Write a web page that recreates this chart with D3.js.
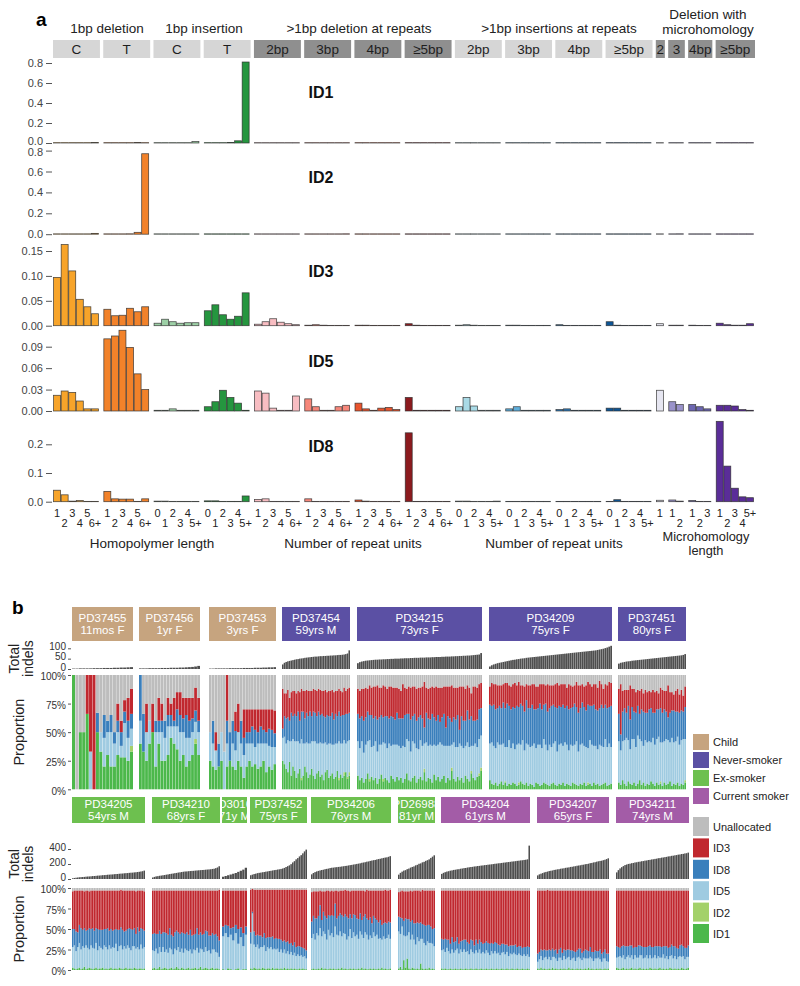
<!DOCTYPE html>
<html><head><meta charset="utf-8">
<script src="https://cdn.jsdelivr.net/npm/d3@7"></script>
<style>body{margin:0;background:#fff;} svg{font-family:Arial,"Liberation Sans",Helvetica,sans-serif;}</style>
</head><body><svg id="chart" width="800" height="986"></svg>
<script>
// ================= PART A DATA =================
const aGroupNames = ['C','T','C','T','2bp','3bp','4bp','≥5bp','2bp','3bp','4bp','≥5bp','2','3','4bp','≥5bp'];
const aGroupSizes = [6,6,6,6,6,6,6,6,6,6,6,6,1,2,3,5];
const delLabels = ['1','2','3','4','5','6+'];
const insLabels = ['0','1','2','3','4','5+'];
const mhLabels = ['1','2','3','4','5+'];
const ID1_vals = [
 .002,.002,.002,.002,.002,.004, .001,.001,.002,.002,.004,.002,
 .001,.001,.001,.002,.002,.014, .001,.001,.003,.006,.022,.81,
 .001,.001,0,0,0,0, .002,.001,.001,0,0,0, .002,.001,0,0,0,0, .001,0,0,0,0,0,
 .001,.001,.001,.001,.001,.003, .001,.001,.001,.001,0,.001, .001,0,0,0,0,.001, .001,.001,0,0,0,0,
 .002, .002,.001, .001,.001,.001, .001,.001,.001,.001,.001];
const ID2_vals = [
 .002,.001,.001,.001,.002,.008, .001,.001,.003,.004,.018,.77,
 .001,.001,.001,.001,.001,.003, .001,.001,.001,.001,.002,.002,
 .002,.001,.001,0,0,0, .001,.002,0,0,0,.004, .001,0,0,0,0,0, .001,.002,0,0,0,0,
 .001,.001,0,0,0,0, .001,.001,0,0,0,0, .001,0,0,0,0,0, .002,.001,0,0,0,0,
 .001, .001,.004, .001,.001,.001, .001,.001,.001,.001,.003];
const ID3_vals = [
 .097,.163,.110,.053,.038,.024, .033,.020,.021,.035,.028,.038,
 .005,.013,.008,.005,.006,.006, .030,.042,.022,.013,.019,.066,
 .003,.008,.014,.007,.004,.002, .001,.002,.001,0,0,0, .001,.001,0,0,0,0, .004,.001,0,0,0,0,
 .001,.002,.001,0,0,0, .001,.001,0,0,0,0, .002,0,0,0,0,0, .008,.001,0,0,0,0,
 .004, .001,.001, .001,0,0, .005,.002,.001,.001,.004];
const ID5_vals = [
 .022,.028,.026,.014,.003,.003, .101,.105,.113,.089,.052,.030,
 .001,.001,.003,.001,.001,.001, .006,.013,.029,.019,.011,.001,
 .028,.025,.004,.001,.001,.021, .017,.006,.001,.001,.006,.008, .011,.003,.001,.004,.005,.002, .019,.001,.001,.001,.001,.001,
 .006,.019,.007,.001,.001,.001, .003,.006,.001,.001,.001,.001, .002,.003,.001,.001,.001,.001, .004,.004,.001,.001,.001,.001,
 .029, .013,.009, .009,.006,.003, .008,.008,.007,.002,.001];
const ID8_vals = [
 .040,.024,.002,.004,.001,.001, .036,.010,.009,.009,.001,.010,
 .002,.002,.001,.001,.001,.001, .003,.003,.001,.001,.001,.020,
 .008,.010,.001,.001,.001,.001, .010,.001,.001,.001,.001,.001, .006,.002,.001,.001,.001,.001, .240,.001,.001,.001,.001,.001,
 .002,.002,.001,.001,.001,.002, .001,.001,.001,.001,.001,.001, .001,.001,.001,.001,.001,.001, .001,.007,.001,.001,.001,.001,
 .005, .006,.002, .004,.001,.001, .280,.124,.047,.017,.014];

// ================= PART B DATA =================
const sigKeys = ['ID1','ID2','ID5','ID8','ID3','Unallocated'];
const PD37455_tot=[2,2,3,3,3,3,4,4,4,5,5,5,6,6,7,7,8,9];
const PD37455_id1=[100,0,50,50,66,0,0,50,33,20,30,20,20,30,28,28,25,33];
const PD37455_id2=[0,0,0,0,0,0,0,0,0,0,0,0,0,0,0,0,0,5];
const PD37455_id5=[0,0,0,0,0,33,0,0,17,25,20,30,20,20,10,30,20,15];
const PD37455_id8=[0,0,0,0,0,0,0,17,0,20,10,15,10,10,12,10,15,13];
const PD37455_id3=[0,0,0,0,34,67,100,0,0,0,0,0,0,15,10,10,20,22];
const PD37456_tot=[3,3,3,4,4,4,4,5,5,5,6,6,6,7,7,8,9,10,12,15];
const PD37456_id1=[40,33,25,40,50,20,40,25,25,30,45,40,35,25,30,20,25,30,40,30];
const PD37456_id2=[0,0,0,0,0,0,0,0,0,0,0,0,0,0,0,0,0,0,4,0];
const PD37456_id5=[20,0,25,20,0,30,10,25,20,25,10,15,20,25,20,25,20,20,15,20];
const PD37456_id8=[40,33,0,0,0,10,10,10,15,10,10,5,15,15,12,20,15,12,10,10];
const PD37456_id3=[0,0,25,0,25,0,20,15,0,15,10,20,15,20,18,15,20,18,20,20];
const PD37453_tot=[2,2,3,3,3,3,3,4,4,4,4,4,5,5,5,5,6,6,6,7,7,8,8,9];
const PD37453_id1=[25,20,17,20,25,0,20,25,20,17,25,20,10,20,25,20,22,18,20,25,15,20,17,22];
const PD37453_id5=[25,20,17,0,25,33,20,0,20,17,25,20,20,20,15,20,15,22,20,15,25,18,20,15];
const PD37453_id8=[0,20,0,20,0,0,20,25,20,17,0,20,15,10,10,15,15,10,15,12,10,15,15,12];
const PD37453_id3=[0,0,16,0,0,0,40,0,0,17,25,0,25,20,20,15,18,20,15,18,20,17,18,20];
const PD37454_tot=[22,30,34,37,39,41,43,45,47,48,50,51,52,54,55,56,57,58,59,60,60,61,62,62,63,63,64,64,65,65,66,66,67,68,68,69,70,72,75,90];
const PD37454_id1=[25,22,18,15,24,12,20,16,10,14,18,8,12,20,15,10,13,18,12,9,14,16,11,13,8,15,17,10,12,14,9,11,16,8,13,10,12,15,9,12];
const PD37454_id2=[0,0,0,0,0,0,0,0,0,0,0,2,0,0,0,0,0,0,0,0,0,0,0,0,0,0,0,0,0,0,0,0,0,2,0,0,3,0,2,3];
const PD37454_id5=[20,24,22,28,18,30,24,26,32,28,22,34,28,20,26,30,27,24,30,33,26,24,30,27,32,26,22,30,28,25,30,29,24,32,27,30,28,25,31,28];
const PD37454_id8=[8,18,22,20,18,25,20,24,22,26,20,24,28,22,26,24,28,22,26,25,24,28,24,26,24,22,26,24,24,28,22,26,24,26,24,25,22,26,24,24];
const PD37454_id3=[35,20,22,24,20,18,22,20,20,18,25,20,18,24,20,22,18,22,20,20,22,20,22,20,22,24,20,22,22,20,24,20,22,20,22,20,24,20,22,22];
const PD34215_tot=[28,33,36,38,40,41,42,43,44,45,45,46,46,47,47,48,48,49,49,50,50,50,51,51,52,52,52,53,53,54,54,54,55,55,55,56,56,56,57,57,58,58,58,59,59,60,60,60,61,61,62,62,63,63,64,64,65,65,66,67,68,69,70,77];
const PD34215_id1=[12,8,10,6,9,14,7,11,8,10,5,9,13,7,10,8,6,12,9,7,11,8,10,6,9,14,8,7,10,12,6,9,11,8,15,7,10,9,6,13,8,11,7,9,12,6,10,8,16,9,7,11,8,10,6,12,9,7,14,10,8,11,12,16];
const PD34215_id2=[0,0,0,0,0,0,2,0,0,0,0,0,0,2,0,0,0,0,0,0,0,0,0,0,0,0,0,0,0,0,0,0,0,0,3,0,0,0,0,0,0,0,0,0,0,0,0,0,3,0,0,0,0,0,0,0,0,0,2,0,0,0,2,3];
const PD34215_id5=[30,28,32,26,30,28,34,26,30,32,28,30,26,32,30,28,34,26,30,32,28,30,26,32,28,30,34,26,32,28,30,26,32,30,22,34,28,30,32,26,30,28,34,30,26,32,28,30,20,32,30,26,32,28,30,26,32,30,22,28,32,26,30,28];
const PD34215_id8=[24,26,22,28,24,26,22,28,24,22,28,24,26,22,24,28,22,26,24,22,28,24,26,24,28,22,24,28,22,26,24,28,22,24,14,26,24,22,28,24,22,26,18,24,28,16,26,24,20,22,24,28,12,26,24,22,28,24,26,22,20,24,26,24];
const PD34215_id3=[22,24,24,28,26,20,26,24,28,26,30,26,24,28,26,24,28,26,26,28,22,26,24,30,24,22,24,28,26,24,28,26,24,28,40,22,26,28,24,26,30,24,30,26,24,36,26,28,32,26,28,24,38,26,30,28,22,28,20,30,30,28,22,22];
const PD34209_tot=[12,18,22,25,28,30,32,34,36,38,40,42,44,45,47,48,50,51,52,54,55,56,57,58,59,60,61,62,63,64,65,66,67,68,69,70,71,72,73,74,75,76,77,78,79,80,81,82,83,84,85,86,87,88,89,90,92,94,96,98,101,104,108,112];
const PD34209_id1=[8,5,4,6,3,5,7,4,6,3,5,4,6,5,3,4,7,5,4,6,3,5,4,2,6,5,3,4,6,5,4,3,5,6,4,3,5,4,6,3,5,4,3,6,5,4,3,5,4,6,3,4,5,3,6,4,5,3,4,5,6,3,4,5];
const PD34209_id2=[0,0,0,0,0,0,0,0,1,0,0,0,0,0,0,2,0,0,0,0,0,0,0,0,0,0,0,0,0,0,0,0,0,0,0,0,0,0,0,0,0,0,0,0,0,0,0,0,0,0,0,2,0,0,0,0,0,0,0,0,0,0,0,0];
const PD34209_id5=[32,36,34,30,38,34,32,36,30,34,38,32,34,30,36,34,32,38,30,34,36,32,34,38,30,34,36,32,38,34,30,36,32,34,38,30,34,36,32,38,34,30,36,32,34,38,30,34,36,32,34,30,38,36,32,34,30,36,34,32,38,34,36,32];
const PD34209_id8=[34,32,36,34,30,34,32,36,34,38,30,34,32,36,34,32,36,30,34,38,32,34,36,30,34,32,36,34,30,36,34,32,36,34,30,38,34,32,36,30,34,36,32,34,36,30,34,32,36,34,32,38,30,34,36,32,34,32,36,34,30,34,32,36];
const PD34209_id3=[16,20,18,22,20,18,20,16,22,18,18,20,20,22,18,22,16,18,22,14,20,20,18,22,20,19,17,22,18,16,24,20,18,17,20,22,18,20,18,21,16,22,20,18,16,22,24,20,16,18,22,20,19,17,18,22,20,24,18,17,18,20,22,20];
const PD37451_tot=[26,30,32,34,36,37,38,40,41,42,43,44,45,46,47,48,49,50,51,52,53,54,55,56,57,58,59,60,61,62,63,64,65,66,68,72];
const PD37451_id1=[6,4,8,5,3,7,5,4,6,3,5,8,4,6,3,5,4,7,5,3,6,4,5,3,6,4,5,7,3,5,4,6,3,5,4,6];
const PD37451_id2=[0,0,0,0,0,0,0,0,0,0,0,0,0,0,0,0,0,0,0,0,0,0,2,0,0,0,0,0,0,0,0,0,0,0,0,2];
const PD37451_id5=[36,30,34,38,42,36,30,40,38,34,42,36,38,32,40,36,38,34,40,36,38,42,34,38,36,40,38,34,42,36,38,40,36,38,40,36];
const PD37451_id8=[24,14,26,28,22,30,26,28,24,30,26,22,28,30,24,26,28,30,22,28,26,24,30,26,28,24,20,26,24,28,26,22,28,26,24,28];
const PD37451_id3=[22,44,18,16,20,14,30,16,20,18,14,20,18,16,20,18,16,14,20,18,16,14,18,20,16,18,28,18,16,14,18,20,16,18,14,18];
const PD34205_tot=[10,14,17,20,23,25,26,28,31,33,34,36,39,40,42,45,46,48,51,52,54,57,58,60,61,64,66,67,70,72,73,76,78,79,82,84,85,88,90,93,96,100,104,112];
const PD34205_id1=[3,2,1,2,3,1,2,4,1,2,3,2,1,2,3,1,2,2,3,1,2,1,2,3,1,2,2,1,3,2,1,2,3,1,2,2,1,3,2,1,2,2,1,2];
const PD34205_id5=[25,28,22,26,30,24,27,23,29,25,22,28,26,24,30,23,27,25,22,29,26,24,28,23,27,25,30,22,26,28,24,27,23,29,25,22,28,26,24,27,23,29,25,26];
const PD34205_id8=[22,20,24,18,22,26,20,24,18,22,26,20,24,22,18,26,20,22,24,20,22,26,18,24,20,22,18,26,20,22,24,18,22,20,24,26,20,22,18,24,22,20,24,20];
const PD34205_id3=[46,47,50,51,42,46,48,45,49,48,45,47,46,49,46,47,48,48,48,47,47,46,49,47,49,48,47,48,48,46,48,50,49,47,46,47,48,46,52,45,50,46,47,48];
const PD34210_tot=[20,28,35,38,43,46,50,53,58,61,66,70,73,78,81,86,89,93,97,100,101,104,106,108,109,112,114,116,118,120,121,124,126,128,130,134,137,145,154,170];
const PD34210_id1=[2,3,1,2,4,1,2,3,2,1,2,3,1,2,4,2,1,3,2,1,2,3,1,2,2,3,1,2,4,1,2,3,2,1,2,3,1,2,2,1];
const PD34210_id5=[22,20,25,18,24,21,26,19,23,20,25,22,18,24,20,26,21,23,19,25,22,20,24,18,23,21,26,19,22,24,20,25,21,23,18,22,24,20,19,15];
const PD34210_id8=[20,22,18,24,20,22,18,24,20,22,24,18,22,20,24,18,22,20,24,18,22,20,24,22,18,20,24,22,20,18,22,20,24,18,22,20,18,22,20,20];
const PD34210_id3=[53,52,53,53,49,53,51,51,52,54,46,54,56,51,49,51,53,51,52,53,51,54,48,55,54,53,46,54,51,54,53,49,50,55,55,52,54,53,56,62];
const PD30160_tot=[30,40,50,60,70,80,95,110,125,150];
const PD30160_id1=[1,0,2,1,0,1,2,0,1,1];
const PD30160_id5=[40,45,38,42,36,44,30,40,28,42];
const PD30160_id8=[12,10,14,8,16,10,18,12,16,10];
const PD30160_id3=[44,42,43,46,45,42,47,45,52,44];
const PD37452_tot=[50,58,66,71,78,82,85,90,93,98,101,106,109,114,118,121,126,129,134,140,148,160,171,182,198,221,238,262,279,301,318,342,368,392];
const PD37452_id1=[2,1,3,2,1,2,1,3,2,1,2,2,1,3,1,2,2,1,2,1,3,1,2,1,2,1,2,1,1,2,1,2,1,1];
const PD37452_id5=[30,68,28,26,30,24,27,25,28,22,26,24,27,22,25,23,24,21,23,20,22,19,21,18,20,17,19,16,18,15,17,14,16,13];
const PD37452_id8=[14,2,16,14,12,16,14,12,15,16,12,14,12,16,12,14,12,16,12,14,11,14,12,13,11,12,13,11,10,12,10,11,9,10];
const PD37452_id3=[52,28,51,56,55,56,56,58,53,59,58,58,58,57,60,59,60,60,61,63,62,64,63,66,65,68,64,70,69,69,70,71,72,74];
const PD34206_tot=[62,80,92,101,108,114,120,124,131,135,139,146,150,152,156,158,161,163,167,170,174,176,181,185,188,193,196,201,205,209,216,220,224,231,234,241,246,251,254,261,266,270,276,281,286,289,296,305];
const PD34206_id1=[1,2,1,1,2,1,3,1,2,1,1,2,1,2,1,1,2,1,3,1,2,1,1,2,1,2,1,1,2,1,3,1,2,1,1,2,1,2,1,1,2,1,3,1,2,1,1,2];
const PD34206_id5=[38,42,36,44,40,50,38,46,42,36,48,40,44,38,52,42,40,46,38,44,42,36,40,48,38,44,40,42,36,46,40,38,44,42,36,40,38,44,40,42,36,38,34,40,36,38,42,36];
const PD34206_id8=[20,22,26,18,24,28,20,24,22,26,18,24,22,26,28,20,24,22,26,20,24,28,22,18,24,22,26,20,24,22,18,26,22,20,24,22,18,20,22,18,20,22,18,16,20,18,16,20];
const PD34206_id3=[36,30,33,33,30,18,35,25,30,34,30,30,30,30,16,34,30,28,30,32,30,32,34,28,34,29,30,34,35,28,36,32,28,35,36,33,40,31,34,36,39,36,42,40,40,40,38,40];
const PD26988_tot=[58,82,98,112,118,131,139,152,161,168,182,189,203,208,222,229,242,251,262,281,298,316];
const PD26988_id1=[2,4,1,12,3,14,2,1,3,2,1,2,1,8,2,1,2,1,3,1,2,1];
const PD26988_id5=[45,40,52,30,38,28,44,36,40,35,30,38,34,30,36,32,28,34,30,32,30,28];
const PD26988_id8=[18,20,10,18,22,20,16,22,18,20,26,18,22,20,18,22,24,20,22,20,18,22];
const PD26988_id3=[30,32,34,36,33,34,34,38,35,40,40,39,40,38,42,42,43,42,42,44,47,46];
const PD34204_tot=[68,82,91,99,104,111,115,121,124,129,131,137,140,145,147,153,156,160,162,167,169,173,175,179,181,185,187,191,193,196,199,203,205,209,211,214,218,220,224,226,229,233,235,238,242,244,248,250,254,257,262,445];
const PD34204_id1=[2,1,2,1,1,2,1,1,2,1,1,2,1,1,2,1,1,2,1,1,2,1,1,2,1,1,2,1,1,2,1,1,2,1,1,2,1,1,2,1,1,2,1,1,2,1,1,2,1,1,2,1];
const PD34204_id5=[22,24,20,26,22,18,24,20,22,25,19,23,21,24,20,22,18,23,21,19,22,20,24,18,21,19,22,20,17,21,19,22,18,20,17,19,21,18,20,16,19,17,20,18,16,19,17,15,18,16,17,15];
const PD34204_id8=[14,12,16,10,14,12,15,13,11,14,12,10,14,12,15,11,13,12,14,10,13,11,12,14,10,13,11,12,14,10,12,11,13,10,12,11,10,12,9,12,10,11,9,12,10,9,11,10,9,11,10,12];
const PD34204_id3=[59,60,59,60,60,65,57,63,62,57,65,62,61,60,60,63,65,60,61,67,60,65,60,63,65,64,62,64,65,64,65,63,64,66,67,65,65,66,66,68,67,67,67,66,69,68,68,70,69,69,68,69];
const PD34207_tot=[48,62,71,79,88,94,99,106,110,114,121,124,129,131,137,140,143,149,152,155,161,163,168,171,177,180,183,189,191,197,200,204,211,214,221,224,231,236,241,244,251,257,266,276];
const PD34207_id1=[2,1,3,1,2,1,1,2,1,3,1,2,1,1,2,1,2,1,1,3,1,2,1,1,2,1,2,1,1,2,1,3,1,2,1,1,2,1,2,1,1,2,1,2];
const PD34207_id5=[8,12,14,11,13,15,12,14,11,13,15,12,10,14,13,11,15,12,14,13,11,12,14,10,13,15,12,11,14,12,13,11,15,12,10,13,12,14,11,9,13,12,10,8];
const PD34207_id8=[10,9,8,12,10,8,11,9,12,10,8,11,9,10,12,9,8,11,10,9,12,10,8,11,9,10,12,9,8,11,10,9,12,8,11,10,9,8,12,10,8,11,9,10];
const PD34207_id3=[77,75,72,73,72,73,74,72,73,71,73,72,77,72,70,76,72,73,72,72,73,73,74,75,73,71,71,76,74,72,73,74,69,75,75,73,74,74,72,77,75,72,77,77];
const PD34211_tot=[88,118,141,158,172,186,193,201,204,211,214,221,223,229,231,237,239,245,247,253,255,261,263,268,271,277,279,285,287,292,295,301,303,309,311,316,319,325,327,333,335,341,344,352];
const PD34211_id1=[3,2,1,2,3,1,2,1,2,3,1,2,1,2,3,1,2,1,2,1,3,2,1,2,1,2,3,1,2,1,2,1,3,2,1,2,1,2,1,3,2,1,2,3];
const PD34211_id5=[12,14,16,13,15,12,14,17,13,15,12,16,14,13,15,17,12,14,16,13,15,12,14,16,13,15,12,14,17,13,15,12,14,16,13,15,12,14,16,13,15,12,14,13];
const PD34211_id8=[14,12,10,14,12,16,13,11,15,12,14,10,13,15,12,11,14,13,10,15,12,14,13,11,15,12,14,13,10,15,12,14,11,13,15,12,14,10,13,15,12,14,11,14];
const PD34211_id3=[68,69,70,68,67,68,68,68,67,67,70,69,69,67,67,68,69,69,69,68,67,69,69,68,68,68,68,69,68,68,68,70,69,66,68,68,70,71,67,66,68,70,70,67];

const patientNames1 = ['PD37455','PD37456','PD37453','PD37454','PD34215','PD34209','PD37451'];
const patientInfo1 = ['11mos F','1yr F','3yrs F','59yrs M','73yrs F','75yrs F','80yrs F'];
const patientGroup1 = ['Child','Child','Child','Never-smoker','Never-smoker','Never-smoker','Never-smoker'];
const patientNames2 = ['PD34205','PD34210','PD30160','PD37452','PD34206','PD26988','PD34204','PD34207','PD34211'];
const patientInfo2 = ['54yrs M','68yrs F','71y M','75yrs F','76yrs M','81yr M','61yrs M','65yrs F','74yrs M'];
const patientGroup2 = ['Ex-smoker','Ex-smoker','Ex-smoker','Ex-smoker','Ex-smoker','Ex-smoker','Current smoker','Current smoker','Current smoker'];
const totTicks1 = [0,50,100];
const totTicks2 = [0,200,400];
const propTicks = [0,25,50,75,100];
const groupLegend = ['Child','Never-smoker','Ex-smoker','Current smoker'];
const sigLegend = ['Unallocated','ID3','ID8','ID5','ID2','ID1'];

// ================= STYLES / LAYOUT =================
const aGroupColors = ['#F7A42A','#F2822A','#9DD0A6','#25963F','#F8BDC2','#F6877A','#E9552E','#8C1A1E',
  '#A9DAE6','#5FAEDB','#2E78B6','#0D5596','#E6E6F1','#9992CA','#6D67B1','#5A2D98'];
const aHeaderDark = [0,0,0,0,1,1,1,1,0,0,0,0,1,1,1,1];
const grpColor = {'Child':'#C6A47F','Never-smoker':'#5B50A4','Ex-smoker':'#6DC04F','Current smoker':'#A35CA7'};
const sigColor = {'Unallocated':'#BDBDBD','ID3':'#C0282F','ID8':'#3A7FBC','ID5':'#9FCBE1','ID2':'#A3D16A','ID1':'#4CB84B'};
const panelX1 = [[72,133],[139,200],[209,276],[282,350],[357,482],[489,612],[618,686]];
const panelX2 = [[72,145],[152,220],[222,247],[250,307],[311,391],[398,435],[441,530],[537,609],[616,689]];

const svg = d3.select('#chart');
const defs = svg.append('defs');
const TXT = '#222';

// ================= PART A DRAW =================
const gA = svg.append('g');
gA.append('text').attr('x',36).attr('y',26).attr('font-size',19).attr('font-weight','bold').text('a');
const GAP = 0.634;
const chan = []; const gStart = []; let pos = 0;
aGroupSizes.forEach((n,k)=>{ gStart.push(pos); for(let i=0;i<n;i++) chan.push({k,i,s:pos+i}); pos += n + (k<aGroupSizes.length-1?GAP:0); });
const xA = d3.scaleLinear().domain([0,pos]).range([53.3,753.8]);
const bw = xA(1)-xA(0);

aGroupSizes.forEach((n,k)=>{
  const x0 = xA(gStart[k])-0.3, x1 = xA(gStart[k]+n)+1.2;
  gA.append('rect').attr('x',x0).attr('y',40).attr('width',x1-x0).attr('height',18).attr('fill',aHeaderDark[k]?'#8F8F8F':'#D6D6D6');
  gA.append('text').attr('x',(x0+x1)/2).attr('y',54).attr('text-anchor','middle').attr('font-size',13.5).attr('fill','#1e1e1e').text(aGroupNames[k]);
});
const topTitles = [['1bp deletion',107,33],['1bp insertion',204,33],['>1bp deletion at repeats',359,33],['>1bp insertions at repeats',559,33],['Deletion with',708,19],['microhomology',708,34]];
topTitles.forEach(t=>gA.append('text').attr('x',t[1]).attr('y',t[2]).attr('text-anchor','middle').attr('font-size',13.5).attr('fill',TXT).text(t[0]));

const aPanels = [
  {name:'ID1', vals:ID1_vals, y0:143, yTop:63, max:0.8, ticks:[0,.2,.4,.6,.8], fmt:'.1f', ly:98, nudgeBottom:-1.6, nudgeTop:0},
  {name:'ID2', vals:ID2_vals, y0:234.2, yTop:150.6, max:0.8, ticks:[0,.2,.4,.6,.8], fmt:'.1f', ly:183, nudgeBottom:0, nudgeTop:1.6},
  {name:'ID3', vals:ID3_vals, y0:325.7, yTop:251, max:0.15, ticks:[0,.05,.10,.15], fmt:'.2f', ly:277, nudgeBottom:0, nudgeTop:0},
  {name:'ID5', vals:ID5_vals, y0:411, yTop:346.7, max:0.09, ticks:[0,.03,.06,.09], fmt:'.2f', ly:367, nudgeBottom:0, nudgeTop:0},
  {name:'ID8', vals:ID8_vals, y0:501.7, yTop:444.3, max:0.2, ticks:[0,.1,.2], fmt:'.1f', ly:452, nudgeBottom:0, nudgeTop:0}
];
aPanels.forEach(p=>{
  const y = d3.scaleLinear().domain([0,p.max]).range([p.y0,p.yTop]);
  const ax = gA.append('g').attr('transform','translate(53,0)')
    .call(d3.axisLeft(y).tickValues(p.ticks).tickFormat(d3.format(p.fmt)).tickSize(6).tickPadding(4));
  ax.select('.domain').remove();
  ax.selectAll('line').attr('stroke','#555').attr('transform','translate(-1,0)');
  ax.selectAll('text').attr('font-size',11).attr('fill','#444').attr('font-family','Arial,"Liberation Sans",sans-serif')
    .attr('transform',d=> d===0 ? `translate(0,${p.nudgeBottom})` : (d===p.ticks[p.ticks.length-1] ? `translate(0,${p.nudgeTop})` : null));
  gA.append('g').selectAll('rect').data(p.vals).join('rect')
    .attr('x',(d,j)=>xA(chan[j].s)+0.3)
    .attr('width',bw-0.6)
    .attr('y',d=>Math.min(y(d), p.y0-0.35))
    .attr('height',d=>Math.max(p.y0-y(d),0.35))
    .attr('fill',(d,j)=>aGroupColors[chan[j].k])
    .attr('stroke','#2c2c2c').attr('stroke-width',0.75).attr('stroke-opacity',0.85);
  gA.append('text').attr('x',321).attr('y',p.ly).attr('text-anchor','middle').attr('font-size',16).attr('font-weight','bold').attr('fill','#111').text(p.name);
});
chan.forEach((c,j)=>{
  let lab;
  if (c.k<2 || (c.k>=4 && c.k<8)) lab = delLabels[c.i];
  else if (c.k<12) lab = insLabels[c.i];
  else lab = mhLabels[c.i];
  gA.append('text').attr('x',xA(c.s)+bw/2).attr('y',c.i%2===0?517:526.5).attr('text-anchor','middle').attr('font-size',11).attr('fill',TXT).text(lab);
});
[['Homopolymer length',152,548,13.5],['Number of repeat units',353,548,13.5],['Number of repeat units',554,548,13.5],['Microhomology',706,541,12.8],['length',706,554.5,12.8]]
 .forEach(t=>gA.append('text').attr('x',t[1]).attr('y',t[2]).attr('text-anchor','middle').attr('font-size',t[3]).attr('fill',TXT).text(t[0]));

// ================= PART B DRAW =================
const gB = svg.append('g');
gB.append('text').attr('x',12).attr('y',614).attr('font-size',19).attr('font-weight','bold').text('b');

const patientData = {PD37455:[PD37455_tot,PD37455_id1,PD37455_id2,PD37455_id5,PD37455_id8,PD37455_id3],
 PD37456:[PD37456_tot,PD37456_id1,PD37456_id2,PD37456_id5,PD37456_id8,PD37456_id3],
 PD37453:[PD37453_tot,PD37453_id1,null,PD37453_id5,PD37453_id8,PD37453_id3],
 PD37454:[PD37454_tot,PD37454_id1,PD37454_id2,PD37454_id5,PD37454_id8,PD37454_id3],
 PD34215:[PD34215_tot,PD34215_id1,PD34215_id2,PD34215_id5,PD34215_id8,PD34215_id3],
 PD34209:[PD34209_tot,PD34209_id1,PD34209_id2,PD34209_id5,PD34209_id8,PD34209_id3],
 PD37451:[PD37451_tot,PD37451_id1,PD37451_id2,PD37451_id5,PD37451_id8,PD37451_id3],
 PD34205:[PD34205_tot,PD34205_id1,null,PD34205_id5,PD34205_id8,PD34205_id3],
 PD34210:[PD34210_tot,PD34210_id1,null,PD34210_id5,PD34210_id8,PD34210_id3],
 PD30160:[PD30160_tot,PD30160_id1,null,PD30160_id5,PD30160_id8,PD30160_id3],
 PD37452:[PD37452_tot,PD37452_id1,null,PD37452_id5,PD37452_id8,PD37452_id3],
 PD34206:[PD34206_tot,PD34206_id1,null,PD34206_id5,PD34206_id8,PD34206_id3],
 PD26988:[PD26988_tot,PD26988_id1,null,PD26988_id5,PD26988_id8,PD26988_id3],
 PD34204:[PD34204_tot,PD34204_id1,null,PD34204_id5,PD34204_id8,PD34204_id3],
 PD34207:[PD34207_tot,PD34207_id1,null,PD34207_id5,PD34207_id8,PD34207_id3],
 PD34211:[PD34211_tot,PD34211_id1,null,PD34211_id5,PD34211_id8,PD34211_id3]};

function drawRow(names, infos, groups, xs, L){
  const yT = d3.scaleLinear().domain([0,L.totMax]).range([L.tot0,L.totTop]);
  const yP = d3.scaleLinear().domain([0,100]).range([L.p0,L.p100]);
  names.forEach((nm,pi)=>{
    const [tot,id1,id2,id5,id8,id3] = patientData[nm];
    const [x0,x1] = xs[pi];
    const x = d3.scaleBand().domain(d3.range(tot.length)).range([x0,x1]).paddingInner(0.1);
    gB.append('rect').attr('x',x0).attr('y',L.boxTop).attr('width',x1-x0).attr('height',L.boxH).attr('fill',grpColor[groups[pi]]);
    const cid='clip_'+nm;
    defs.append('clipPath').attr('id',cid).append('rect').attr('x',x0).attr('y',L.boxTop).attr('width',x1-x0).attr('height',L.boxH);
    const tg = gB.append('g').attr('clip-path','url(#'+cid+')');
    tg.append('text').attr('x',(x0+x1)/2).attr('y',L.boxTop+L.t1).attr('text-anchor','middle').attr('font-size',11.5).attr('fill','#fff').text(nm);
    tg.append('text').attr('x',(x0+x1)/2).attr('y',L.boxTop+L.t2).attr('text-anchor','middle').attr('font-size',11.5).attr('fill','#fff').text(infos[pi]);
    gB.append('g').selectAll('rect').data(tot).join('rect')
      .attr('x',(d,i)=>x(i)).attr('width',x.bandwidth())
      .attr('y',d=>yT(d)).attr('height',d=>yT(0)-yT(d)).attr('fill','#4E4E4E');
    const rows = tot.map((t,i)=>{
      const r = {ID1:id1[i], ID2:id2?id2[i]:0, ID5:id5[i], ID8:id8[i], ID3:id3[i]};
      r.Unallocated = Math.max(0, 100-(r.ID1+r.ID2+r.ID5+r.ID8+r.ID3));
      return r;
    });
    const series = d3.stack().keys(sigKeys)(rows);
    const sg = gB.append('g');
    series.forEach(s=>{
      sg.append('g').selectAll('rect').data(s).join('rect')
        .attr('x',(d,i)=>x(i)).attr('width',x.bandwidth())
        .attr('y',d=>yP(d[1])).attr('height',d=>Math.max(0,yP(d[0])-yP(d[1])))
        .attr('fill',sigColor[s.key]);
    });
  });
  const a1 = gB.append('g').attr('transform','translate(71,0)').call(d3.axisLeft(yT).tickValues(L.totTicks).tickSize(3).tickPadding(2));
  const a2 = gB.append('g').attr('transform','translate(71,0)').call(d3.axisLeft(yP).tickValues(propTicks).tickFormat(d=>d+'%').tickSize(3).tickPadding(2));
  [a1,a2].forEach(a=>{ a.select('.domain').remove(); a.selectAll('line').attr('stroke','#555');
    a.selectAll('text').attr('font-size',10).attr('fill','#333').attr('font-family','Arial,"Liberation Sans",sans-serif'); });
  a1.selectAll('text').attr('dy','0.1em');
  a2.selectAll('text').attr('dy','0.48em');
  const tl = gB.append('text').attr('transform',`translate(22,${(L.tot0+L.totTop)/2}) rotate(-90)`).attr('text-anchor','middle').attr('font-size',14).attr('fill',TXT);
  tl.append('tspan').attr('x',0).attr('dy','-0.25em').text('Total');
  tl.append('tspan').attr('x',0).attr('dy','1.0em').text('indels');
  gB.append('text').attr('transform',`translate(24,${(L.p0+L.p100)/2}) rotate(-90)`).attr('text-anchor','middle').attr('font-size',14.5).attr('fill',TXT).text('Proportion');
}
drawRow(patientNames1, patientInfo1, patientGroup1, panelX1,
  {boxTop:607, boxH:34, t1:15, t2:27, totMax:100, tot0:669, totTop:648.3, totTicks:totTicks1, p0:789.3, p100:675});
drawRow(patientNames2, patientInfo2, patientGroup2, panelX2,
  {boxTop:797, boxH:26, t1:11, t2:23, totMax:400, tot0:879, totTop:849, totTicks:totTicks2, p0:970, p100:888});

const lg = gB.append('g');
groupLegend.forEach((k,i)=>{
  const y = 734 + i*18;
  lg.append('rect').attr('x',693).attr('y',y).attr('width',16).attr('height',16).attr('fill',grpColor[k]);
  lg.append('text').attr('x',713).attr('y',y+12).attr('font-size',11).attr('fill',TXT).text(k);
});
sigLegend.forEach((k,i)=>{
  const y = 817 + i*21.4;
  lg.append('rect').attr('x',693).attr('y',y).attr('width',16).attr('height',19).attr('fill',sigColor[k]);
  lg.append('text').attr('x',713).attr('y',y+14).attr('font-size',11).attr('fill',TXT).text(k);
});
</script></body></html>
